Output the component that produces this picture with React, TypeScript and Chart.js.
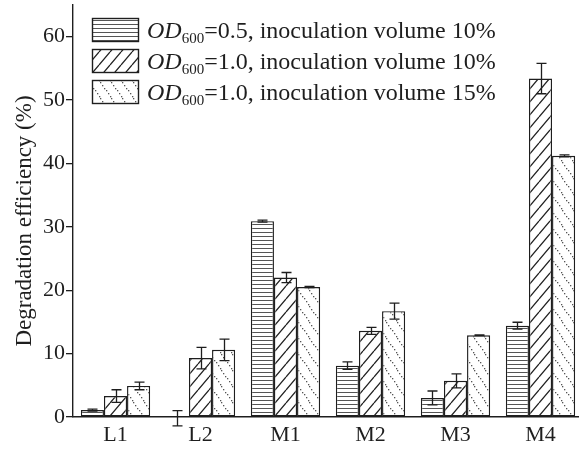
import React, { useEffect, useRef } from "react";
import { Chart, registerables } from "chart.js";
Chart.register(...registerables);

const categories = ["L1", "L2", "M1", "M2", "M3", "M4"];
const seriesSuffix = [
  "=0.5, inoculation volume 10%",
  "=1.0, inoculation volume 10%",
  "=1.0, inoculation volume 15%",
];
const od05vol10 = [1.1, -0.2, 30.9, 8.1, 3.0, 14.4];
const od05vol10Err = [0.15, 1.2, 0.15, 0.6, 1.1, 0.55];
const od10vol10 = [3.3, 9.3, 22.0, 13.6, 5.7, 53.4];
const od10vol10Err = [1.0, 1.7, 0.8, 0.55, 1.1, 2.4];
const od10vol15 = [4.9, 10.6, 20.5, 16.7, 12.9, 41.2];
const od10vol15Err = [0.6, 1.7, 0.1, 1.25, 0.05, 0.15];
const yTicks = [0, 10, 20, 30, 40, 50, 60];
const yTitle = "Degradation efficiency (%)";

const FONT = "'Liberation Serif', 'DejaVu Serif', serif";
const INK = "#1e1e1e";

function makeTile(w: number, h: number, draw: (c: CanvasRenderingContext2D) => void) {
  const cv = document.createElement("canvas");
  cv.width = w;
  cv.height = h;
  const c = cv.getContext("2d")!;
  c.fillStyle = "#ffffff";
  c.fillRect(0, 0, w, h);
  draw(c);
  return cv;
}

function makePatterns(ctx: CanvasRenderingContext2D) {
  const horiz = makeTile(8, 4, (c) => {
    c.strokeStyle = "#555";
    c.lineWidth = 1;
    c.beginPath();
    c.moveTo(0, 0.5);
    c.lineTo(8, 0.5);
    c.stroke();
  });
  const diag = makeTile(11, 13, (c) => {
    c.strokeStyle = "#222";
    c.lineWidth = 1.3;
    c.beginPath();
    c.moveTo(0, 13);
    c.lineTo(11, 0);
    c.moveTo(-11, 13);
    c.lineTo(0, 0);
    c.moveTo(11, 13);
    c.lineTo(22, 0);
    c.stroke();
  });
  const dots = makeTile(11, 16, (c) => {
    c.fillStyle = "#555";
    const n = 6;
    for (let k = 0; k < n; k++) {
      const t = k / n;
      c.fillRect(Math.floor(t * 11), Math.floor(t * 16), 1.3, 1.3);
    }
  });
  return [
    ctx.createPattern(horiz, "repeat")!,
    ctx.createPattern(diag, "repeat")!,
    ctx.createPattern(dots, "repeat")!,
  ];
}

export default function App() {
  const ref = useRef<HTMLCanvasElement | null>(null);
  useEffect(() => {
    const canvas = ref.current!;
    const ctx = canvas.getContext("2d")!;
    const pats = makePatterns(ctx);
    const values = [od05vol10, od10vol10, od10vol15];
    const errs = [od05vol10Err, od10vol10Err, od10vol15Err];

    const errorBars = {
      id: "errorBars",
      afterDatasetsDraw(chart: any) {
        const c = chart.ctx;
        const ys = chart.scales.y;
        c.save();
        c.strokeStyle = INK;
        c.lineWidth = 1.3;
        chart.data.datasets.forEach((ds: any, i: number) => {
          const meta = chart.getDatasetMeta(i);
          meta.data.forEach((bar: any, j: number) => {
            const v = values[i][j];
            const e = errs[i][j];
            const x = Math.round(bar.x) + 0.5;
            const yt = ys.getPixelForValue(v + e);
            const yb = ys.getPixelForValue(v - e);
            c.beginPath();
            c.moveTo(x, yt);
            c.lineTo(x, yb);
            c.moveTo(x - 5, yt);
            c.lineTo(x + 5, yt);
            c.moveTo(x - 5, yb);
            c.lineTo(x + 5, yb);
            c.stroke();
          });
        });
        c.restore();
      },
    };

    const legendAndTitle = {
      id: "customLegend",
      afterDraw(chart: any) {
        const c = chart.ctx;
        c.save();
        const bx = 92.5;
        const bw = 46;
        const bh = 23;
        const tops = [18.5, 49.5, 80.5];
        tops.forEach((top, i) => {
          c.fillStyle = pats[i];
          c.fillRect(bx, top, bw, bh);
          c.strokeStyle = INK;
          c.lineWidth = 1.4;
          c.strokeRect(bx, top, bw, bh);
          const base = top + 19;
          let x = 147;
          c.fillStyle = INK;
          c.textBaseline = "alphabetic";
          c.textAlign = "left";
          c.font = `italic 24px ${FONT}`;
          c.fillText("OD", x, base);
          x += c.measureText("OD").width;
          c.font = `15px ${FONT}`;
          c.fillText("600", x, base + 5);
          x += c.measureText("600").width;
          c.font = `24px ${FONT}`;
          c.fillText(seriesSuffix[i], x, base);
        });
        // y-axis title
        c.translate(25, 221);
        c.rotate(-Math.PI / 2);
        c.textAlign = "center";
        c.textBaseline = "middle";
        c.font = `23px ${FONT}`;
        c.fillStyle = INK;
        c.fillText(yTitle, 0, 0);
        c.restore();
      },
    };

    const chart = new Chart(canvas, {
      type: "bar",
      data: {
        labels: categories,
        datasets: values.map((vals, i) => ({
          label: "OD600" + seriesSuffix[i],
          data: vals,
          backgroundColor: pats[i] as any,
          borderColor: INK,
          borderWidth: 1.4,
          borderSkipped: false,
          categoryPercentage: 0.815,
          barPercentage: 1.0,
        })),
      },
      options: {
        responsive: false,
        animation: false,
        devicePixelRatio: 1,
        layout: { padding: { left: 0, right: 17, top: 5, bottom: 0 } },
        plugins: { legend: { display: false }, tooltip: { enabled: false } },
        scales: {
          x: {
            grid: { display: false, drawTicks: false },
            border: { display: true, color: INK, width: 1.4 },
            ticks: { color: INK, font: { family: FONT, size: 22 }, padding: 5 },
            afterFit(scale: any) {
              scale.height = 33;
              scale.paddingLeft = 0;
              scale.paddingRight = 0;
            },
          },
          y: {
            min: 0,
            max: 65,
            afterBuildTicks(scale: any) {
              scale.ticks = yTicks.map((v) => ({ value: v }));
            },
            grid: {
              drawOnChartArea: false,
              drawTicks: true,
              tickLength: 7,
              color: INK,
              lineWidth: 1.3,
            },
            border: { display: true, color: INK, width: 1.4 },
            ticks: { color: INK, font: { family: FONT, size: 22 }, padding: 1 },
            afterFit(scale: any) {
              scale.width = 73;
              scale.paddingTop = 0;
              scale.paddingBottom = 0;
            },
          },
        },
      },
      plugins: [errorBars, legendAndTitle],
    });
    return () => chart.destroy();
  }, []);

  return (
    <div style={{ position: "absolute", left: 0, top: 0, width: 579, height: 450, overflow: "hidden", background: "#fff" }}>
      <canvas ref={ref} width={600} height={450} style={{ display: "block" }} />
    </div>
  );
}
